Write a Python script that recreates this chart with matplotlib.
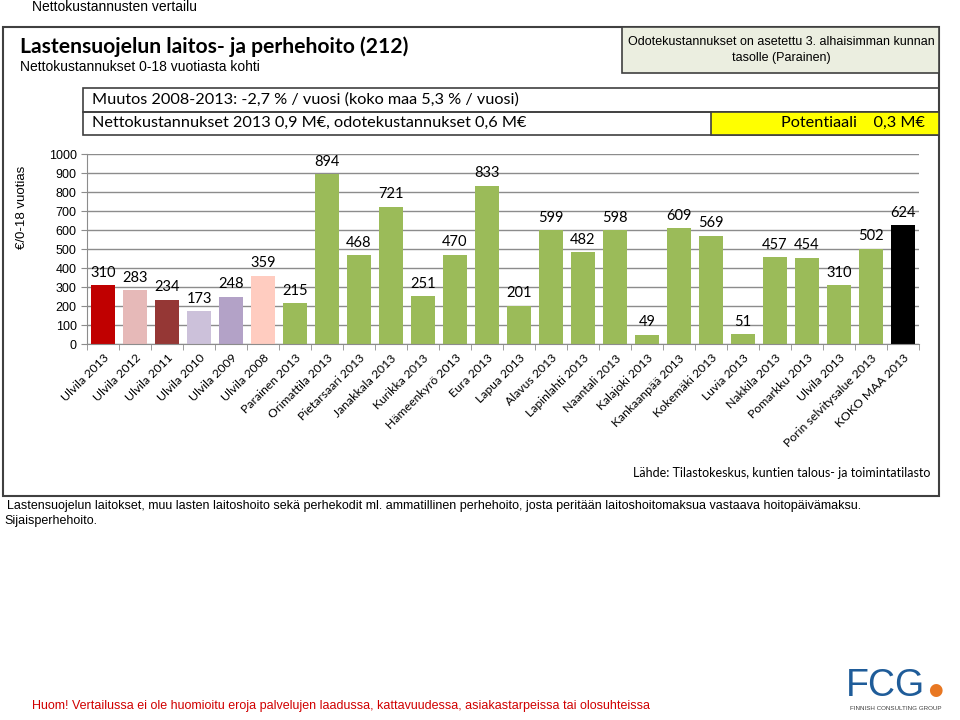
"""
Lastensuojelun laitos- ja perhehoito: nettokustannukset 0-18 vuotiasta kohti
"""
import matplotlib
matplotlib.use("Agg")
import matplotlib.pyplot as plt
from matplotlib.patches import Rectangle

# data
categories = ["Ulvila 2013", "Ulvila 2012", "Ulvila 2011", "Ulvila 2010",
              "Ulvila 2009", "Ulvila 2008", "Parainen 2013",
              "Orimattila 2013", "Pietarsaari 2013", "Janakkala 2013",
              "Kurikka 2013", "Hämeenkyrö 2013", "Eura 2013", "Lapua 2013",
              "Alavus 2013", "Lapinlahti 2013", "Naantali 2013",
              "Kalajoki 2013", "Kankaanpää 2013", "Kokemäki 2013",
              "Luvia 2013", "Nakkila 2013", "Pomarkku 2013", "Ulvila 2013",
              "Porin selvitysalue 2013", "KOKO MAA 2013"]
values = [310, 283, 234, 173, 248, 359, 215, 894, 468, 721, 251, 470, 833,
          201, 599, 482, 598, 49, 609, 569, 51, 457, 454, 310, 502, 624]
colors = ["#C00000", "#E6B9B8", "#953735", "#CCC1DA", "#B3A2C7", "#FFCCC0"] \
    + ["#9BBB59"] * 19 + ["#000000"]
y_ticks = list(range(0, 1001, 100))

W, H = 960, 720
fig = plt.figure(figsize=(W / 100, H / 100), dpi=100)


def px(x, y):
    # pixel coords (top-left origin) -> figure fraction
    return x / W, 1 - y / H


def box(x0, y0, x1, y1, fc="none", ec="#404040", lw=1.2):
    fig.patches.append(Rectangle(px(x0, y1), (x1 - x0) / W, (y1 - y0) / H,
                                 transform=fig.transFigure, fc=fc, ec=ec,
                                 lw=lw, zorder=0))


# frames
box(3, 27, 939, 496, lw=1.5)
box(622, 27, 939, 73, fc="#EBEEE0")
box(83, 88, 939, 112)
box(83, 112, 939, 135)
box(711, 112, 939, 135, fc="#FFFF00")

# texts
fig.text(*px(32, 7), "Nettokustannusten vertailu", family="Liberation Sans",
         fontsize=10, va="center")
fig.text(*px(20, 47), "Lastensuojelun laitos- ja perhehoito (212)",
         family="Lato", fontweight="bold", fontsize=15.2, va="center")
fig.text(*px(20, 67), "Nettokustannukset 0-18 vuotiasta kohti",
         family="Liberation Sans", fontsize=10, va="center")
fig.text(*px(781, 42), "Odotekustannukset on asetettu 3. alhaisimman kunnan",
         family="Liberation Sans", fontsize=9, ha="center", va="center")
fig.text(*px(781, 58), "tasolle (Parainen)",
         family="Liberation Sans", fontsize=9, ha="center", va="center")
fig.text(*px(92, 100), "Muutos 2008-2013: -2,7 % / vuosi (koko maa 5,3 % / vuosi)",
         family="Lato", fontsize=11.7, va="center")
fig.text(*px(92, 123), "Nettokustannukset 2013 0,9 M€, odotekustannukset 0,6 M€",
         family="Lato", fontsize=11.7, va="center")
fig.text(*px(925, 123), "Potentiaali    0,3 M€",
         family="Lato", fontsize=11.7, ha="right", va="center")
fig.text(*px(930, 473), "Lähde: Tilastokeskus, kuntien talous- ja toimintatilasto",
         family="Lato", fontsize=9, ha="right", va="center")
fig.text(*px(7, 506), "Lastensuojelun laitokset, muu lasten laitoshoito sekä "
         "perhekodit ml. ammatillinen perhehoito, josta peritään "
         "laitoshoitomaksua vastaava hoitopäivämaksu.",
         family="Liberation Sans", fontsize=9, va="center")
fig.text(*px(4, 521), "Sijaisperhehoito.", family="Liberation Sans",
         fontsize=9, va="center")
fig.text(*px(32, 706), "Huom! Vertailussa ei ole huomioitu eroja palvelujen "
         "laadussa, kattavuudessa, asiakastarpeissa tai olosuhteissa",
         family="Liberation Sans", fontsize=9, color="#D00000", va="center")
# logo
fig.text(*px(846, 686), "FCG", family="Liberation Sans", fontsize=27,
         color="#1F5C99", va="center")
fig.text(*px(935, 690), "●", family="DejaVu Sans", fontsize=12,
         color="#E87722", va="center", ha="center")
fig.text(*px(896, 709), "FINNISH CONSULTING GROUP", family="Liberation Sans",
         fontsize=4.5, color="#404040", va="center", ha="center")

# y label
fig.text(*px(22, 207), "€/0-18 vuotias", family="Liberation Sans",
         fontsize=9.5, rotation=90, ha="center", va="center")

# chart
ax = fig.add_axes([87 / W, 1 - 344 / H, 832 / W, 190 / H])
x = range(len(values))
ax.bar(x, values, width=0.78, color=colors, zorder=2)
for i, v in enumerate(values):
    ax.annotate(str(v), (i, v), xytext=(0, 4), textcoords="offset points",
                ha="center", va="bottom", family="Lato", fontsize=10.5)
ax.set_xlim(-0.5, len(values) - 0.5)
ax.set_ylim(0, 1000)
ax.set_yticks(y_ticks)
ax.set_yticklabels([str(t) for t in y_ticks], family="Liberation Sans",
                   fontsize=9)
ax.yaxis.grid(True, color="#8C8C8C", lw=1.0, zorder=0)
ax.set_axisbelow(True)
ax.set_xticks([i - 0.5 for i in range(len(values) + 1)], minor=True)
ax.set_xticks(list(x))
ax.set_xticklabels(categories, rotation=45, ha="right",
                   rotation_mode="anchor", family="Lato", fontsize=8.8)
ax.tick_params(axis="x", which="major", length=0, pad=6)
ax.tick_params(axis="x", which="minor", length=4, color="#8C8C8C")
ax.tick_params(axis="y", length=4, color="#8C8C8C")
for s in ["top", "right"]:
    ax.spines[s].set_visible(False)
for s in ["left", "bottom"]:
    ax.spines[s].set_color("#8C8C8C")

fig.savefig("out.png", dpi=100)
